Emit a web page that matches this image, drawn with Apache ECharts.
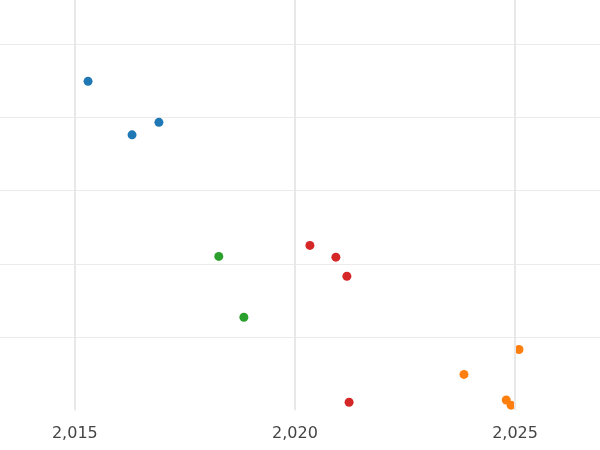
<!DOCTYPE html>
<html>
<head>
  <script src="https://cdn.jsdelivr.net/npm/echarts@6/dist/echarts.min.js"></script>
  <style>body{margin:0}#graph{width:600px;height:450px}</style>
</head>
<body>
  <div id="graph"></div>
  <script>
    var chart = echarts.init(document.getElementById('graph'));

    // data: [year, value]
    var blue = [[2015.30, 4.49], [2016.30, 3.76], [2016.91, 3.93]];
    var green = [[2018.27, 2.10], [2018.84, 1.27]];
    var red = [[2020.34, 2.25], [2020.93, 2.09], [2021.18, 1.83], [2021.23, 0.11]];
    var orange = [[2023.84, 0.49], [2025.09, 0.83], [2024.80, 0.14], [2024.91, 0.07]];
    var yearTicks = [2015, 2020, 2025];

    function s(data, color) {
      return { type: 'scatter', data: data, symbolSize: 9, itemStyle: { color: color, opacity: 1 } };
    }

    chart.setOption({
      animation: false,
      grid: { left: 0, right: 0, top: 0, bottom: 22 },
      xAxis: {
        type: 'value', min: 2013.3, max: 2026.93,
        axisLine: { show: false }, axisTick: { show: false },
        axisLabel: { color: '#444', fontSize: 16, margin: 8, fontFamily: 'DejaVu Sans',
          customValues: yearTicks },
        splitLine: { show: false }
      },
      yAxis: {
        type: 'value', min: 0, max: 5.6, interval: 1,
        axisLine: { show: false }, axisTick: { show: false }, axisLabel: { show: false },
        splitLine: { showMinLine: false, showMaxLine: false, lineStyle: { color: '#ebebeb', width: 1 } }
      },
      series: [
        s(blue, '#1f77b4'), s(green, '#2ca02c'), s(red, '#d62728'), s(orange, '#ff7f0e'),
        {
          type: 'line', data: [], markLine: {
            silent: true, symbol: 'none', label: { show: false },
            lineStyle: { color: '#e8e8e8', width: 2, type: 'solid' },
            data: yearTicks.map(function (y) { return { xAxis: y }; })
          }
        }
      ]
    });
  </script>
</body>
</html>
